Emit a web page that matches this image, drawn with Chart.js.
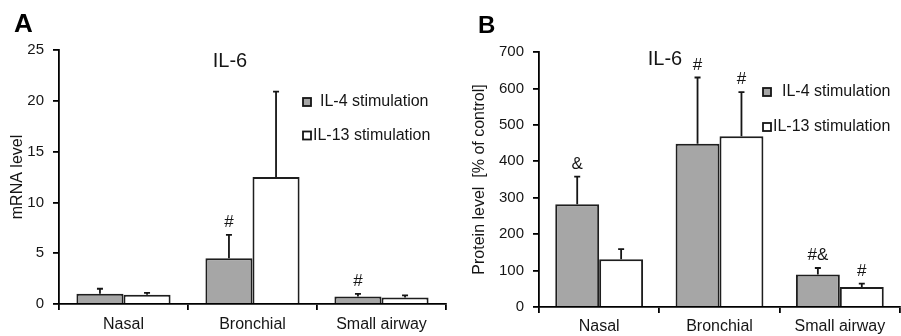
<!DOCTYPE html>
<html>
<head>
<meta charset="utf-8">
<script src="https://cdn.jsdelivr.net/npm/chart.js@4.4.1/dist/chart.umd.min.js"></script>
<style>
body{margin:0;background:#fff;width:901px;height:336px;position:relative;overflow:hidden}
canvas{position:absolute;top:0}
#chartA{left:0}
#chartB{left:450px}
</style>
</head>
<body>
<canvas id="chartA" width="450" height="336"></canvas>
<canvas id="chartB" width="451" height="336"></canvas>
<script>
// ===============================
// Data
// ===============================

const categories = ["Nasal", "Bronchial", "Small airway"];
const seriesNames = ["IL-4 stimulation", "IL-13 stimulation"];

// panel A - mRNA level
const mrnaIL4 = [1.0, 4.5, 0.75];
const mrnaIL4Sd = [0.5, 2.3, 0.25];
const mrnaIL13 = [0.9, 12.5, 0.65];
const mrnaIL13Sd = [0.2, 8.4, 0.2];
const mrnaIL4Marks = ["", "#", "#"];
const mrnaIL13Marks = ["", "", ""];
const mrnaTicks = [0, 5, 10, 15, 20, 25];

// panel B - protein level
const proteinIL4 = [282, 448, 89];
const proteinIL4Sd = [76, 182, 18];
const proteinIL13 = [131, 469, 55];
const proteinIL13Sd = [28, 121, 9];
const proteinIL4Marks = ["&", "#", "#&"];
const proteinIL13Marks = ["", "#", "#"];
const proteinTicks = [0, 100, 200, 300, 400, 500, 600, 700];

const FONT = "'Liberation Sans', Arial, sans-serif";
const INK = "#151515";
Chart.defaults.font.family = FONT;
Chart.defaults.color = INK;

// ===============================
// Plugin: error bars, marks, legend, titles
// ===============================

const decoPlugin = {
    id: "deco",
    afterDatasetsDraw(chart, args, opts) {
        const ctx = chart.ctx;
        const y = chart.scales.y;
        ctx.save();
        ctx.strokeStyle = INK;
        ctx.fillStyle = INK;
        ctx.lineWidth = 1.8;
        chart.data.datasets.forEach((ds, i) => {
            const meta = chart.getDatasetMeta(i);
            meta.data.forEach((bar, j) => {
                const top = y.getPixelForValue(ds.data[j] + ds.sd[j]);
                ctx.beginPath();
                ctx.moveTo(bar.x, bar.y);
                ctx.lineTo(bar.x, top);
                ctx.moveTo(bar.x - 3, top);
                ctx.lineTo(bar.x + 3, top);
                ctx.stroke();
                if (ds.marks[j]) {
                    ctx.font = "17px " + FONT;
                    ctx.textAlign = "center";
                    ctx.textBaseline = "bottom";
                    ctx.fillText(ds.marks[j], bar.x, top - 4);
                }
            });
        });
        ctx.restore();
    },
    afterDraw(chart, args, opts) {
        const ctx = chart.ctx;
        ctx.save();
        ctx.fillStyle = "#000";
        ctx.textBaseline = "middle";
        ctx.textAlign = "left";
        ctx.font = "bold " + opts.letterSize + "px " + FONT;
        ctx.fillText(opts.letter, opts.letterX, opts.letterY);

        ctx.textAlign = "center";
        ctx.font = "20px " + FONT;
        ctx.fillStyle = INK;
        ctx.fillText("IL-6", opts.titleX, opts.titleY);

        // legend
        ctx.font = "16px " + FONT;
        ctx.textAlign = "left";
        chart.data.datasets.forEach((ds, i) => {
            const ly = opts.legendY[i];
            ctx.fillStyle = ds.backgroundColor;
            ctx.fillRect(opts.legendX, ly - 4, 8, 8);
            ctx.strokeStyle = INK;
            ctx.lineWidth = 1.8;
            ctx.strokeRect(opts.legendX, ly - 4, 8, 8);
            ctx.fillStyle = INK;
            ctx.fillText(ds.label, opts.legendX + opts.legendGap[i], ly);
        });
        ctx.restore();
    }
};

// ===============================
// Chart builder
// ===============================

function makeChart(id, s) {
    return new Chart(document.getElementById(id), {
        type: "bar",
        data: {
            labels: categories,
            datasets: [{
                label: seriesNames[0],
                data: s.il4,
                sd: s.il4Sd,
                marks: s.il4Marks,
                backgroundColor: "#a6a6a6",
                borderColor: "#1e1e1e",
                borderWidth: 2
            }, {
                label: seriesNames[1],
                data: s.il13,
                sd: s.il13Sd,
                marks: s.il13Marks,
                backgroundColor: "#ffffff",
                borderColor: "#1e1e1e",
                borderWidth: 2
            }]
        },
        plugins: [decoPlugin],
        options: {
            responsive: false,
            animation: false,
            devicePixelRatio: 1,
            layout: { padding: { top: s.padTop, right: s.padRight, left: 0, bottom: 0 } },
            datasets: { bar: { categoryPercentage: 0.73, barPercentage: 1 } },
            plugins: {
                legend: { display: false },
                tooltip: { enabled: false },
                deco: s.deco
            },
            scales: {
                x: {
                    grid: { offset: true, drawOnChartArea: false, tickLength: 6, color: "#000", lineWidth: 1.8 },
                    border: { color: "#000", width: 1.8 },
                    ticks: { color: INK, font: { size: 16 }, padding: s.xPad, maxRotation: 0 },
                    afterFit: sc => { sc.height = s.xHeight; }
                },
                y: {
                    min: 0,
                    max: s.ticks[s.ticks.length - 1],
                    afterBuildTicks: sc => { sc.ticks = s.ticks.map(v => ({ value: v })); },
                    grid: { drawOnChartArea: false, tickLength: 6, color: "#000", lineWidth: 1.8 },
                    border: { color: "#000", width: 1.8 },
                    ticks: { color: INK, font: { size: 15 }, padding: 9 },
                    title: { display: true, text: s.yTitle, color: INK, font: { size: 16 }, padding: { top: s.yTitlePad, bottom: 0 } },
                    afterFit: sc => { sc.width = s.yWidth; }
                }
            }
        }
    });
}

makeChart("chartA", {
    il4: mrnaIL4, il4Sd: mrnaIL4Sd, il4Marks: mrnaIL4Marks,
    il13: mrnaIL13, il13Sd: mrnaIL13Sd, il13Marks: mrnaIL13Marks,
    ticks: mrnaTicks,
    yTitle: "mRNA level",
    padTop: 50, padRight: 4, xHeight: 32, xPad: 5, yWidth: 59, yTitlePad: 8,
    deco: { letter: "A", letterSize: 26, letterX: 14, letterY: 25,
            titleX: 230, titleY: 61,
            legendX: 303, legendY: [102, 135.5], legendGap: [17, 10] }
});

makeChart("chartB", {
    il4: proteinIL4, il4Sd: proteinIL4Sd, il4Marks: proteinIL4Marks,
    il13: proteinIL13, il13Sd: proteinIL13Sd, il13Marks: proteinIL13Marks,
    ticks: proteinTicks,
    yTitle: "Protein level  [% of control]",
    padTop: 52, padRight: 1, xHeight: 29, xPad: 4, yWidth: 89, yTitlePad: 20,
    deco: { letter: "B", letterSize: 24, letterX: 28, letterY: 26,
            titleX: 215, titleY: 59,
            legendX: 313, legendY: [92, 127], legendGap: [19, 10] }
});
</script>
</body>
</html>
